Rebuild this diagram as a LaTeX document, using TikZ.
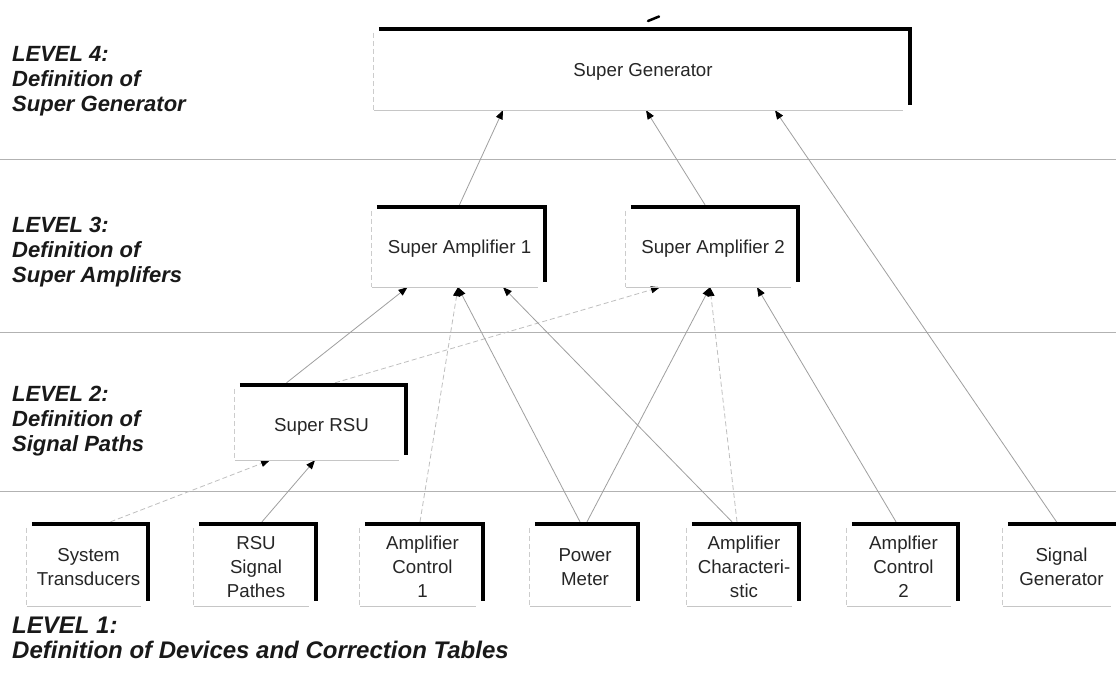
\documentclass[tikz,border=0pt]{standalone}
\usepackage{fontspec}
\setmainfont{Liberation Sans}
\usetikzlibrary{arrows.meta}
\begin{document}
\begin{tikzpicture}[x=1pt,y=-1pt,
  box/.style={rectangle, inner sep=0pt, fill=white},
  btxt/.style={font=\fontsize{18.7}{24}\selectfont, align=center, inner sep=0pt, text=black!85},
  lvl/.style={font=\fontsize{22}{25}\selectfont\bfseries\itshape, anchor=base west, inner sep=0pt, text=black!90},
  lvlb/.style={lvl, font=\fontsize{24}{26}\selectfont\bfseries\itshape},
  sepline/.style={draw=gray!60, line width=1pt},
  thinedge/.style={draw=gray!45, line width=0.8pt},
  thinedgeL/.style={draw=gray!40, line width=0.8pt, dash pattern=on 5pt off 3pt},
  thickedge/.style={draw=black, line width=4pt, line join=miter},
  arr/.style={draw=gray!75, line width=0.8pt, -{Triangle[length=9pt,width=7pt,color=black]}},
  farr/.style={arr, draw=gray!50, dash pattern=on 5pt off 3pt},
]
\useasboundingbox (0,0) rectangle (1116,682);
\fill[white] (0,0) rectangle (1116,682);

% level separators
\coordinate (s1a) at (0,159);   \coordinate (s1b) at (1116,159);
\coordinate (s2a) at (0,332);   \coordinate (s2b) at (1116,332);
\coordinate (s3a) at (0,491);   \coordinate (s3b) at (1116,491);
\draw[sepline] (s1a) -- (s1b);
\draw[sepline] (s2a) -- (s2b);
\draw[sepline] (s3a) -- (s3b);

% level labels
\node[lvl] (l4a) at (12,62) {LEVEL 4:};
\node[lvl] (l4b) at (12,87) {Definition of};
\node[lvl] (l4c) at (12,112) {Super Generator};
\node[lvl] (l3a) at (12,232) {LEVEL 3:};
\node[lvl] (l3b) at (12,257) {Definition of};
\node[lvl] (l3c) at (12,282) {Super Amplifers};
\node[lvl] (l2a) at (12,401) {LEVEL 2:};
\node[lvl] (l2b) at (12,426) {Definition of};
\node[lvl] (l2c) at (12,451) {Signal Paths};
\node[lvlb] (l1a) at (12,633) {LEVEL 1:};
\node[lvlb] (l1b) at (12,658) {Definition of Devices and Correction Tables};

% boxes
\node[box, minimum width=538pt, minimum height=83pt] (sg) at (643,68.5) {};
\node[box, minimum width=175pt, minimum height=82pt] (sa1) at (459.5,246) {};
\node[box, minimum width=174pt, minimum height=82pt] (sa2) at (713,246) {};
\node[box, minimum width=173pt, minimum height=77pt] (srsu) at (321.5,421.5) {};
\node[box, minimum width=123pt, minimum height=84pt] (st) at (88.5,564) {};
\node[box, minimum width=124pt, minimum height=84pt] (rsu) at (256,564) {};
\node[box, minimum width=125pt, minimum height=84pt] (ac1) at (422.5,564) {};
\node[box, minimum width=110pt, minimum height=84pt] (pm) at (585,564) {};
\node[box, minimum width=114pt, minimum height=84pt] (ach) at (744,564) {};
\node[box, minimum width=113pt, minimum height=84pt] (ac2) at (903.5,564) {};
\node[box, minimum width=117pt, minimum height=84pt] (sgen) at (1061.5,564) {};

% box texts
\node[btxt] (sgt) at ([yshift=-3pt]sg.center) {Super Generator};
\node[btxt] (sa1t) at ([yshift=-3pt]sa1.center) {Super Amplifier 1};
\node[btxt] (sa2t) at ([yshift=-3pt]sa2.center) {Super Amplifier 2};
\node[btxt] (srsut) at ([yshift=-5pt]srsu.center) {Super RSU};
\node[btxt] (stt) at ([yshift=-3pt]st.center) {System\\Transducers};
\node[btxt] (rsut) at ([yshift=-3pt]rsu.center) {RSU\\Signal\\Pathes};
\node[btxt] (ac1t) at ([yshift=-3pt]ac1.center) {Amplifier\\Control\\1};
\node[btxt] (pmt) at ([yshift=-3pt]pm.center) {Power\\Meter};
\node[btxt] (acht) at ([yshift=-3pt]ach.center) {Amplifier\\Characteri-\\stic};
\node[btxt] (ac2t) at ([yshift=-3pt]ac2.center) {Amplfier\\Control\\2};
\node[btxt] (sgent) at ([yshift=-3pt]sgen.center) {Signal\\Generator};

% connectors
\draw[arr] ([xshift=0pt]sa1.north) -- ([xshift=-140pt]sg.south);
\draw[arr] ([xshift=-8pt]sa2.north) -- ([xshift=3pt]sg.south);
\draw[arr] ([xshift=-5pt]sgen.north) -- ([xshift=132pt]sg.south);
\draw[arr] ([xshift=-35pt]srsu.north) -- ([xshift=-52pt]sa1.south);
\draw[farr] ([xshift=13.5pt]srsu.north) -- ([xshift=-53pt]sa2.south);
\draw[farr] ([xshift=22pt]st.north) -- ([xshift=-51.5pt]srsu.south);
\draw[arr] ([xshift=6pt]rsu.north) -- ([xshift=-6.5pt]srsu.south);
\draw[farr] ([xshift=-2.5pt]ac1.north) -- ([xshift=-1.5pt]sa1.south);
\draw[arr] ([xshift=-5pt]pm.north) -- ([xshift=-1.5pt]sa1.south);
\draw[arr] ([xshift=2pt]pm.north) -- ([xshift=-3pt]sa2.south);
\draw[arr] ([xshift=-12pt]ach.north) -- ([xshift=43.5pt]sa1.south);
\draw[farr] ([xshift=-7pt]ach.north) -- ([xshift=-3pt]sa2.south);
\draw[arr] ([xshift=-7.5pt]ac2.north) -- ([xshift=44pt]sa2.south);

% box edges (thin grey left/bottom, thick black top/right)
\foreach \n in {sg,sa1,sa2,srsu,st,rsu,ac1,pm,ach,ac2,sgen}{
  \draw[thinedgeL] ([yshift=-6pt]\n.north west) -- (\n.south west);
  \draw[thinedge] (\n.south west) -- ([xshift=-9pt]\n.south east);
  \draw[thickedge] ([xshift=5pt,yshift=-2pt]\n.north west) -- ([xshift=-2pt,yshift=-2pt]\n.north east) -- ([xshift=-2pt,yshift=5pt]\n.south east);
}

% small mark above the top box
\draw[line width=2.5pt, line cap=round] (648,21) -- (659,16.5);
\end{tikzpicture}
\end{document}
